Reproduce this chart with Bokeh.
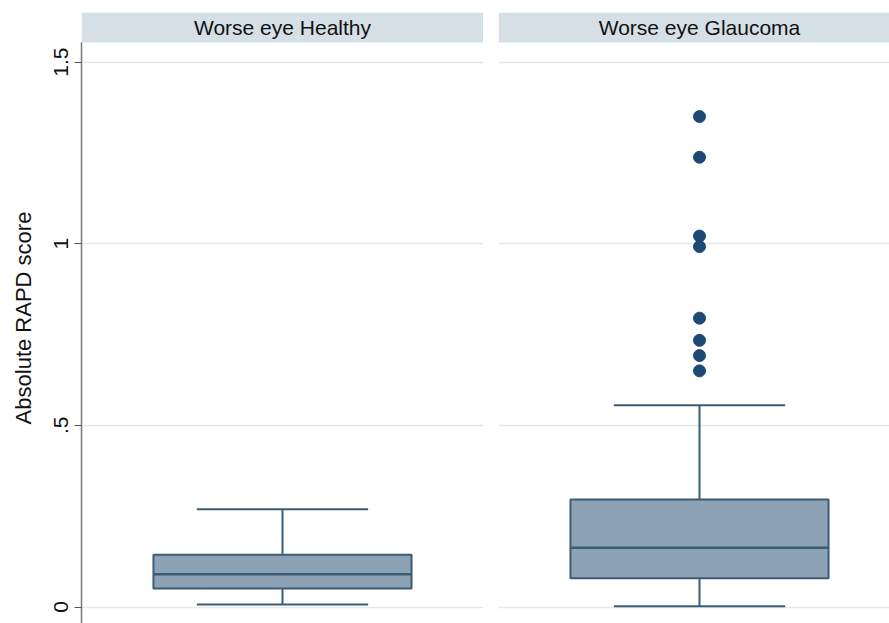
from bokeh.plotting import figure
from bokeh.layouts import row
from bokeh.models import Range1d, FixedTicker, Grid, ColumnDataSource
from bokeh.core.properties import value
from bokeh.embed import file_html
from bokeh.resources import INLINE

# Box-plot summaries of absolute RAPD score by worse-eye status
groups = ["Worse eye Healthy", "Worse eye Glaucoma"]
lower_whisker = [0.007, 0.002]
q1 = [0.051, 0.079]
median = [0.090, 0.163]
q3 = [0.144, 0.296]
upper_whisker = [0.269, 0.555]
outliers = [[], [0.650, 0.692, 0.734, 0.795, 0.992, 1.021, 1.238, 1.350]]

y_ticks = [0, 0.5, 1, 1.5]
y_tick_labels = ["0", ".5", "1", "1.5"]

FONT = "Liberation Sans"
BOX_FILL = "#8da3b5"
BOX_LINE = "#3c5b74"
DOT = "#1c4a72"
STRIP = "#d5e0e6"
GRID = "#e6e9eb"

Y_MIN, Y_MAX = -0.0454, 1.6364
PLOT_TOP = 1.5538          # top of the data area; the panel strip sits above it
CENTER, BOX_HW, CAP_HW = 0.5, 0.321, 0.213
FRAME_W = 402


def panel(i, width, x_end, left_border, with_axis):
    p = figure(width=width, height=623, output_backend="svg", toolbar_location=None,
               x_range=Range1d(0, x_end), y_range=Range1d(Y_MIN, Y_MAX),
               x_axis_location=None, y_axis_location="left" if with_axis else None,
               min_border_left=left_border, min_border_right=0,
               min_border_top=12, min_border_bottom=0)
    p.outline_line_color = None
    p.xgrid.visible = False
    p.ygrid.visible = False
    p.add_layout(Grid(dimension=1, ticker=FixedTicker(ticks=y_ticks),
                      grid_line_color=GRID, grid_line_width=1.5))

    # panel strip with its title
    p.quad(left=[0], right=[x_end], bottom=[PLOT_TOP], top=[Y_MAX],
           fill_color=STRIP, line_color=None)
    p.text(x=[CENTER], y=[(PLOT_TOP + Y_MAX) / 2], text=[groups[i]],
           text_font=value(FONT), text_font_size="21px", text_color="#111111",
           text_align="center", text_baseline="middle")

    # whiskers and caps
    p.segment(x0=[CENTER, CENTER], y0=[q3[i], q1[i]], x1=[CENTER, CENTER],
              y1=[upper_whisker[i], lower_whisker[i]], line_color=BOX_LINE, line_width=2)
    p.segment(x0=[CENTER - CAP_HW] * 2, x1=[CENTER + CAP_HW] * 2,
              y0=[upper_whisker[i], lower_whisker[i]], y1=[upper_whisker[i], lower_whisker[i]],
              line_color=BOX_LINE, line_width=2)
    # box and median
    p.quad(left=[CENTER - BOX_HW], right=[CENTER + BOX_HW], bottom=[q1[i]], top=[q3[i]],
           fill_color=BOX_FILL, line_color=BOX_LINE, line_width=2)
    p.segment(x0=[CENTER - BOX_HW], x1=[CENTER + BOX_HW], y0=[median[i]], y1=[median[i]],
              line_color=BOX_LINE, line_width=2.5)
    # outside values
    if outliers[i]:
        src = ColumnDataSource(dict(x=[CENTER] * len(outliers[i]), y=outliers[i]))
        p.scatter("x", "y", source=src, size=12, fill_color=DOT, line_color=DOT)

    if with_axis:
        ax = p.yaxis[0]
        ax.ticker = FixedTicker(ticks=y_ticks)
        ax.major_label_overrides = {t: l for t, l in zip(y_ticks, y_tick_labels)}
        ax.bounds = (Y_MIN, PLOT_TOP)
        ax.minor_tick_line_color = None
        ax.major_tick_in = 0
        ax.major_tick_out = 7
        ax.major_tick_line_color = "#555555"
        ax.axis_line_color = "#777777"
        ax.axis_line_width = 1.5
        ax.major_label_orientation = "vertical"
        ax.major_label_text_font = FONT
        ax.major_label_text_font_size = "21px"
        ax.major_label_text_color = "#111111"
        ax.major_label_standoff = 6
        ax.axis_label = "Absolute RAPD score"
        ax.axis_label_text_font = FONT
        ax.axis_label_text_font_style = "normal"
        ax.axis_label_text_font_size = "22px"
        ax.axis_label_text_color = "#111111"
        ax.axis_label_standoff = 16
    return p


left = panel(0, 81 + FRAME_W, 1.0, 81, True)
right = panel(1, 889 - 81 - FRAME_W, (889 - 81 - FRAME_W - 15) / FRAME_W, 15, False)

layout = row(left, right, spacing=0)
open("out.html", "w").write(file_html(layout, INLINE))
